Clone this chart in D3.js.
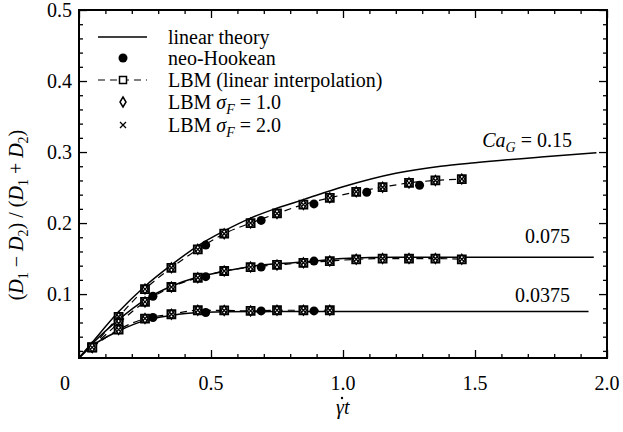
<!DOCTYPE html>
<html>
<head>
<meta charset="utf-8">
<script src="https://cdn.jsdelivr.net/npm/d3@7"></script>
</head>
<body style="margin:0">
<svg width="623" height="432" id="chart"></svg>
<script>
// LBM samples (same times for all three LBM variants, markers coincide)
const lbmT = [0.05, 0.15, 0.25, 0.35, 0.45, 0.55, 0.65, 0.75, 0.85, 0.95, 1.05, 1.15, 1.25, 1.35, 1.45];
const lbmHigh = [0.025, 0.068, 0.107, 0.137, 0.163, 0.185, 0.200, 0.2135, 0.226, 0.2355, 0.244, 0.2505, 0.2566, 0.260, 0.262];
const lbmMid = [0.025, 0.059, 0.089, 0.110, 0.123, 0.1325, 0.138, 0.141, 0.144, 0.1465, 0.149, 0.150, 0.150, 0.150, 0.149];
const lbmLow = [0.025, 0.050, 0.0655, 0.0716, 0.0772, 0.077, 0.0763, 0.0772, 0.0772, 0.0772];

// neo-Hookean reference
const neoHighT = [0.48, 0.69, 0.89, 1.09, 1.29];
const neoHigh = [0.169, 0.2037, 0.227, 0.2434, 0.2532];
const neoMidT = [0.28, 0.48, 0.69, 0.89];
const neoMid = [0.097, 0.1245, 0.138, 0.1465];
const neoLowT = [0.28, 0.48, 0.69, 0.89];
const neoLow = [0.067, 0.074, 0.0763, 0.0763];

// linear theory curves
const theoryHighT = [0, 0.05, 0.15, 0.25, 0.35, 0.45, 0.55, 0.65, 0.75, 0.85, 1.0, 1.2, 1.37, 1.5, 1.75, 1.96];
const theoryHigh = [0.01, 0.032, 0.075, 0.111, 0.141, 0.168, 0.189, 0.207, 0.221, 0.233, 0.251, 0.270, 0.280, 0.285, 0.293, 0.299];
const theoryMidT = [0, 0.05, 0.15, 0.25, 0.35, 0.45, 0.55, 0.65, 0.85, 1.0, 1.2, 1.5, 1.95];
const theoryMid = [0.01, 0.03, 0.064, 0.092, 0.111, 0.124, 0.132, 0.139, 0.145, 0.150, 0.152, 0.152, 0.152];
const theoryLowT = [0, 0.05, 0.15, 0.25, 0.35, 0.45, 0.55, 0.75, 1.0, 1.5, 1.93];
const theoryLow = [0.01, 0.027, 0.048, 0.063, 0.070, 0.074, 0.075, 0.0755, 0.0755, 0.0755, 0.0755];

const xMajor = [0, 0.5, 1.0, 1.5, 2.0];
const yMajor = [0.1, 0.2, 0.3, 0.4, 0.5];
const curveLabels = ['0.15', '0.075', '0.0375'];

const margin = { top: 10, right: 16, bottom: 74, left: 79 };
const width = 623 - margin.left - margin.right;
const height = 432 - margin.top - margin.bottom;

// scales in page coordinates so all text can sit directly on the svg root
const x = d3.scaleLinear().domain([0, 2]).range([margin.left, margin.left + width]);
const y = d3.scaleLinear().domain([0.01, 0.5]).range([margin.top + height, margin.top]);

const root = d3.select('#chart');
root.append('rect').attr('width', 623).attr('height', 432).attr('fill', '#fff');

function txt(px, py, anchor) {
  return root.append('text')
    .attr('x', px).attr('y', py)
    .attr('text-anchor', anchor || 'start')
    .style('font-family', "'Liberation Serif'")
    .style('font-size', '20px')
    .style('fill', '#000');
}

root.append('defs').append('clipPath').attr('id', 'clip')
  .append('rect').attr('x', margin.left).attr('y', margin.top).attr('width', width).attr('height', height);

// minor ticks every 0.1 / 0.02
const xMinor = d3.range(1, 20).map(i => i / 10).filter(v => Math.abs(v * 2 - Math.round(v * 2)) > 1e-6);
const yMinor = d3.range(1, 25).map(i => i / 50).filter(v => Math.abs(v * 10 - Math.round(v * 10)) > 1e-6);

function addAxis(axis, tx, ty) {
  const g = root.append('g')
    .attr('transform', `translate(${tx}, ${ty})`)
    .call(axis.tickFormat(''));
  g.select('.domain').remove();
  g.selectAll('text').remove();
  g.selectAll('line').attr('stroke', '#000').attr('stroke-width', 1.3);
}
const bottom = margin.top + height;
const right = margin.left + width;
addAxis(d3.axisBottom(x).tickValues(xMajor).tickSize(-8), 0, bottom);
addAxis(d3.axisBottom(x).tickValues(xMinor).tickSize(-4), 0, bottom);
addAxis(d3.axisTop(x).tickValues(xMajor).tickSize(-8), 0, margin.top);
addAxis(d3.axisTop(x).tickValues(xMinor).tickSize(-4), 0, margin.top);
addAxis(d3.axisLeft(y).tickValues(yMajor).tickSize(-8), margin.left, 0);
addAxis(d3.axisLeft(y).tickValues(yMinor).tickSize(-4), margin.left, 0);
addAxis(d3.axisRight(y).tickValues(yMajor).tickSize(-8), right, 0);
addAxis(d3.axisRight(y).tickValues(yMinor).tickSize(-4), right, 0);

// tick labels
xMajor.forEach((d) => {
  txt(x(d) - (d === 0 ? 14 : 0), bottom + 32, 'middle').text(d === 0 ? '0' : d3.format('.1f')(d));
});
yMajor.forEach((d) => {
  txt(margin.left - 7, y(d) + 7, 'end').text(d3.format('.1f')(d));
});

// frame
root.append('rect')
  .attr('x', margin.left).attr('y', margin.top)
  .attr('width', width).attr('height', height)
  .attr('fill', 'none').attr('stroke', '#000').attr('stroke-width', 2);

// axis labels
txt(x(1.0) - 7, bottom + 56).style('font-style', 'italic').text('γt');
root.append('circle')
  .attr('cx', x(1.0) - 1)
  .attr('cy', bottom + 40)
  .attr('r', 1.2)
  .attr('fill', '#000');

const yl = txt(0, 0, 'middle').attr('transform', `translate(${margin.left - 56}, ${margin.top + 205})rotate(-90)`);
const parts = [['(', 0], ['D', 1], ['1', 2], [' − ', 0], ['D', 1], ['2', 2], [') / (', 0],
  ['D', 1], ['1', 2], [' + ', 0], ['D', 1], ['2', 2], [')', 0]];
parts.forEach(([t, k], i) => {
  const s = yl.append('tspan').text(t);
  if (k === 1) s.style('font-style', 'italic');
  if (k === 2) s.attr('dy', 5).style('font-size', '14px');
  else if (i > 0 && parts[i - 1][1] === 2) s.attr('dy', -5);
});

const line = d3.line()
  .x(d => x(d[0]))
  .y(d => y(d[1]))
  .curve(d3.curveMonotoneX);

const plot = root.append('g').attr('clip-path', 'url(#clip)');

// linear theory
[[theoryHighT, theoryHigh], [theoryMidT, theoryMid], [theoryLowT, theoryLow]].forEach(([ts, vs]) => {
  plot.append('path')
    .datum(ts.map((t, i) => [t, vs[i]]))
    .attr('d', line)
    .attr('fill', 'none')
    .attr('stroke', '#000')
    .attr('stroke-width', 1.5);
});

// LBM dashed lines
[lbmHigh, lbmMid, lbmLow].forEach((vs) => {
  plot.append('path')
    .datum(vs.map((v, i) => [lbmT[i], v]))
    .attr('d', line)
    .attr('fill', 'none')
    .attr('stroke', '#000')
    .attr('stroke-width', 1.2)
    .attr('stroke-dasharray', '7,5');
});

// neo-Hookean circles
[[neoHighT, neoHigh], [neoMidT, neoMid], [neoLowT, neoLow]].forEach(([ts, vs]) => {
  plot.selectAll(null)
    .data(ts.map((t, i) => [t, vs[i]]))
    .enter().append('circle')
    .attr('cx', d => x(d[0]))
    .attr('cy', d => y(d[1]))
    .attr('r', 4.5)
    .attr('fill', '#000');
});

const square = d3.symbol().type(d3.symbolSquare).size(64);
const diamond = 'M0,-5L3,0L0,5L-3,0Z';
const cross = 'M-3,-3L3,3M-3,3L3,-3';

function lbmMarkers(g) {
  g.append('path').attr('d', square()).attr('fill', '#fff').attr('stroke', '#000').attr('stroke-width', 1.8);
  g.append('path').attr('d', diamond).attr('fill', 'none').attr('stroke', '#000').attr('stroke-width', 1.3);
  g.append('path').attr('d', cross).attr('fill', 'none').attr('stroke', '#000').attr('stroke-width', 1.3);
}

[lbmHigh, lbmMid, lbmLow].forEach((vs) => {
  plot.selectAll(null)
    .data(vs.map((v, i) => [lbmT[i], v]))
    .enter().append('g')
    .attr('transform', d => `translate(${x(d[0])}, ${y(d[1])})`)
    .each(function () { lbmMarkers(d3.select(this)); });
});

// curve labels
const ca = txt(572, 147, 'end');
ca.append('tspan').style('font-style', 'italic').text('Ca');
ca.append('tspan').style('font-style', 'italic').style('font-size', '14px').attr('dy', 5).text('G');
ca.append('tspan').attr('dy', -5).text(' = ' + curveLabels[0]);
txt(570, 243, 'end').text(curveLabels[1]);
txt(570, 302, 'end').text(curveLabels[2]);

// legend
const legendRows = [
  { label: 'linear theory', y: 37 },
  { label: 'neo-Hookean', y: 58 },
  { label: 'LBM (linear interpolation)', y: 80 },
  { label: 'LBM σF = 1.0', y: 102, sigma: '1.0' },
  { label: 'LBM σF = 2.0', y: 125, sigma: '2.0' },
];
const lx = 123;
legendRows.forEach((d) => {
  const t = txt(168, d.y + 7);
  if (d.sigma) {
    t.append('tspan').text('LBM ');
    t.append('tspan').style('font-style', 'italic').text('σ');
    t.append('tspan').style('font-style', 'italic').style('font-size', '14px').attr('dy', 5).text('F');
    t.append('tspan').attr('dy', -5).text(' = ' + d.sigma);
  } else {
    t.text(d.label);
  }
});

root.append('line').attr('x1', 98).attr('x2', 147).attr('y1', 37).attr('y2', 37)
  .attr('stroke', '#000').attr('stroke-width', 1.5);
root.append('circle').attr('cx', lx).attr('cy', 58).attr('r', 4.5).attr('fill', '#000');
root.append('line').attr('x1', 98).attr('x2', 147).attr('y1', 80).attr('y2', 80)
  .attr('stroke', '#000').attr('stroke-width', 1.2).attr('stroke-dasharray', '7,5');
root.append('path').attr('transform', `translate(${lx}, 80)`).attr('d', d3.symbol().type(d3.symbolSquare).size(49)())
  .attr('fill', '#fff').attr('stroke', '#000').attr('stroke-width', 1.5);
root.append('path').attr('transform', `translate(${lx}, 102)`).attr('d', diamond)
  .attr('fill', 'none').attr('stroke', '#000').attr('stroke-width', 1.5);
root.append('path').attr('transform', `translate(${lx}, 125)`).attr('d', cross)
  .attr('fill', 'none').attr('stroke', '#000').attr('stroke-width', 1.3);
</script>
</body>
</html>
